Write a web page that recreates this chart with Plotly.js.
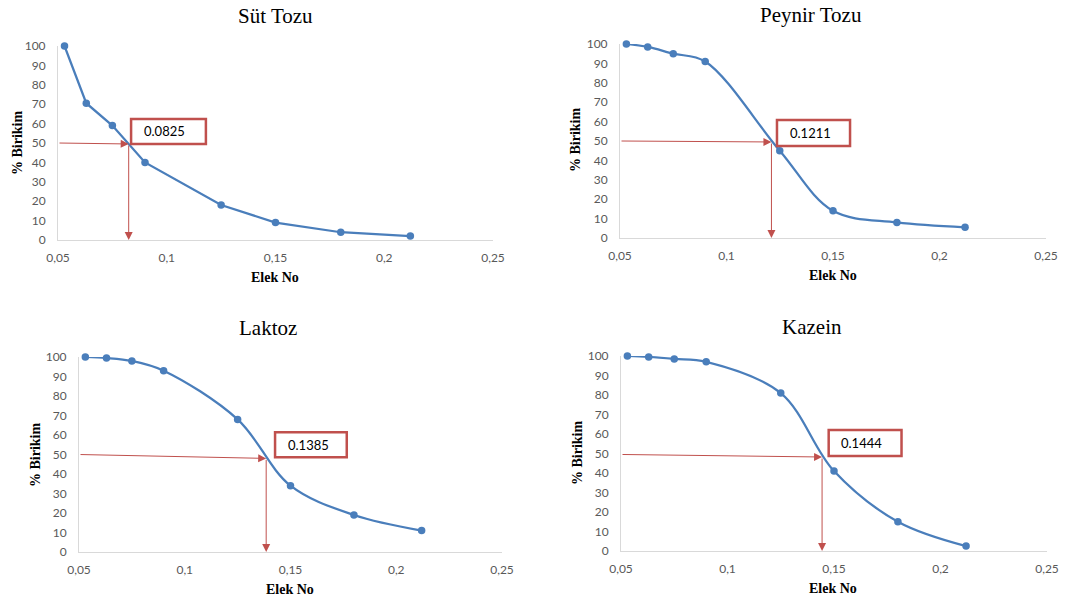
<!DOCTYPE html>
<html><head><meta charset="utf-8">
<script src="https://cdn.plot.ly/plotly-3.0.1.min.js"></script>
<style>html,body{margin:0;padding:0;background:#fff}#chart{width:1076px;height:603px}</style>
</head><body><div id="chart"></div>
<script>
// Data
const elekNo = [0.053, 0.063, 0.075, 0.090, 0.125, 0.150, 0.180, 0.212];
const sutTozu = [100, 70.5, 59, 40, 18, 9, 4, 2];
const peynirTozu = [100, 98.5, 95, 91, 45, 14, 8, 5.5];
const laktoz = [100, 99.5, 98, 93, 68, 34, 19, 11];
const kazein = [100, 99.5, 98.5, 97, 81, 41, 15, 2.5];
const panelTitles = ["Süt Tozu", "Peynir Tozu", "Laktoz", "Kazein"];
const d50Values = [0.0825, 0.1211, 0.1385, 0.1444];
const d50Labels = ["0.0825", "0.1211", "0.1385", "0.1444"];
const xTickVals = [0.05, 0.1, 0.15, 0.2, 0.25];
const xTickText = ["0,05", "0,1", "0,15", "0,2", "0,25"];
const yTickVals = [0, 10, 20, 30, 40, 50, 60, 70, 80, 90, 100];

const W = 1076, H = 603;
const series = [sutTozu, peynirTozu, laktoz, kazein];
// panel geometry in pixels: [x0,x1,yBottom,yTop]
const geo = [
  [58, 493, 240, 46],
  [620, 1046, 238, 44],
  [79, 502, 552, 357],
  [621, 1047, 551, 356]
];
const titlePos = [[275, 16], [811, 15], [268, 328], [812, 327]];
const yTitlePos = [[17, 143], [575, 140], [35, 455], [577, 453]];
const xTitlePos = [[275, 277], [833, 275], [290, 589], [833, 588]];
// box (data coords): [x0,x1,y0,y1]
const boxes = [
  [0.0836, 0.118, 49.5, 62.4],
  [0.1237, 0.158, 47.4, 60.8],
  [0.1427, 0.1766, 48.6, 61.4],
  [0.1475, 0.1817, 48.7, 62]
];
const arrowY = [[50, 49.5], [50, 49.5], [50, 48], [49.5, 48.2]];

const red = '#C0504D';
const blue = '#4A7EBB';
const traces = [], shapes = [], annotations = [];
const layout = {
  width: W, height: H, margin: {l: 0, r: 0, t: 0, b: 0},
  paper_bgcolor: '#fff', plot_bgcolor: 'rgba(0,0,0,0)', showlegend: false,
  separators: ',.'
};
function px2x(p){return p / W;}
function px2y(p){return 1 - p / H;}

for (let i = 0; i < 4; i++) {
  const sfx = i === 0 ? '' : String(i + 1);
  const g = geo[i];
  layout['xaxis' + sfx] = {
    domain: [px2x(g[0]), px2x(g[1])], range: [0.05, 0.25], anchor: 'y' + sfx,
    tickvals: xTickVals, ticktext: xTickText, showgrid: false, zeroline: false,
    showline: true, linecolor: '#D9D9D9', linewidth: 1, ticks: '', ticklabelstandoff: 7,
    tickfont: {family: 'Lato, "Open Sans", sans-serif', size: 12, color: '#595959'},
    fixedrange: true
  };
  layout['yaxis' + sfx] = {
    domain: [px2y(g[2]), px2y(g[3])], range: [0, 100], anchor: 'x' + sfx,
    tickvals: yTickVals, showgrid: false, zeroline: false,
    showline: true, linecolor: '#D9D9D9', linewidth: 1, ticks: '', ticklabelstandoff: 9,
    tickfont: {family: 'Lato, "Open Sans", sans-serif', size: 12, color: '#595959'},
    fixedrange: true
  };
  traces.push({
    x: elekNo, y: series[i], xaxis: 'x' + sfx, yaxis: 'y' + sfx,
    type: 'scatter', mode: 'lines+markers', cliponaxis: false,
    line: {color: blue, width: 2.25, shape: i === 0 ? 'linear' : 'spline', smoothing: 1},
    marker: {color: blue, size: 7.5}
  });
  // titles
  annotations.push({xref: 'paper', yref: 'paper', x: px2x(titlePos[i][0]), y: px2y(titlePos[i][1]),
    text: panelTitles[i], showarrow: false, xanchor: 'center', yanchor: 'middle',
    font: {family: '"Liberation Serif", "Times New Roman", serif', size: 21, color: '#000'}});
  annotations.push({xref: 'paper', yref: 'paper', x: px2x(yTitlePos[i][0]), y: px2y(yTitlePos[i][1]),
    text: '<b>% Birikim</b>', showarrow: false, textangle: -90, xanchor: 'center', yanchor: 'middle',
    font: {family: '"Liberation Serif", "Times New Roman", serif', size: 14, color: '#000'}});
  annotations.push({xref: 'paper', yref: 'paper', x: px2x(xTitlePos[i][0]), y: px2y(xTitlePos[i][1]),
    text: '<b>Elek No</b>', showarrow: false, xanchor: 'center', yanchor: 'middle',
    font: {family: '"Liberation Serif", "Times New Roman", serif', size: 14, color: '#000'}});
  // arrows
  annotations.push({xref: 'x' + sfx, yref: 'y' + sfx, axref: 'x' + sfx, ayref: 'y' + sfx,
    x: d50Values[i], y: arrowY[i][1], ax: 0.05, ay: arrowY[i][0], text: '',
    showarrow: true, arrowhead: 2, arrowsize: 1.6, arrowwidth: 1, arrowcolor: red, standoff: 0});
  annotations.push({xref: 'x' + sfx, yref: 'y' + sfx, axref: 'x' + sfx, ayref: 'y' + sfx,
    x: d50Values[i], y: 0, ax: d50Values[i], ay: arrowY[i][1], text: '',
    showarrow: true, arrowhead: 2, arrowsize: 1.6, arrowwidth: 1, arrowcolor: red, standoff: 0});
  // box
  const b = boxes[i];
  shapes.push({type: 'rect', xref: 'x' + sfx, yref: 'y' + sfx, x0: b[0], x1: b[1], y0: b[2], y1: b[3],
    line: {color: red, width: 2.5}, fillcolor: '#fff', layer: 'above'});
  annotations.push({xref: 'x' + sfx, yref: 'y' + sfx, x: b[0] + 0.005, y: (b[2] + b[3]) / 2,
    text: d50Labels[i], showarrow: false, xanchor: 'left', yanchor: 'middle',
    font: {family: 'Lato, "Open Sans", sans-serif', size: 13, color: '#000'}});
}
layout.shapes = shapes;
layout.annotations = annotations;
Plotly.newPlot('chart', traces, layout, {displayModeBar: false, staticPlot: true});
</script></body></html>
